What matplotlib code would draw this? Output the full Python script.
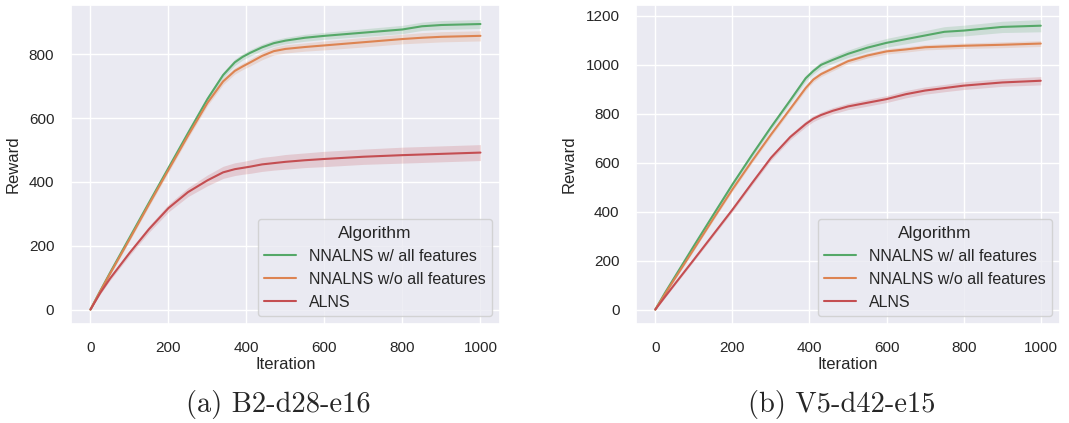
import numpy as np
import matplotlib
matplotlib.use('Agg')
import matplotlib.pyplot as plt
import seaborn as sns

# Mean reward curves (sampled every few iterations) and half-width of the confidence band
iters_b2 = [0, 25, 50, 100, 150, 200, 250, 300, 340, 370, 390, 410, 440, 470, 500, 550, 600, 700, 800, 850, 900, 1000]
b2_full = [0, 58, 115, 225, 335, 444, 553, 660, 735, 775, 792, 805, 822, 835, 843, 852, 858, 868, 878, 888, 892, 895]
b2_nofeat = [0, 57, 112, 220, 330, 438, 545, 648, 715, 748, 762, 775, 795, 810, 817, 823, 828, 838, 848, 852, 855, 858]
b2_alns = [0, 52, 97, 177, 252, 318, 368, 405, 430, 440, 444, 448, 455, 459, 463, 468, 472, 479, 484, 486, 488, 492]
b2_full_ci = [0, 4, 5, 6, 7, 8, 8, 9, 9, 10, 10, 10, 10, 10, 10, 11, 11, 12, 13, 13, 14, 14]
b2_nofeat_ci = [0, 4, 5, 6, 7, 8, 8, 9, 10, 10, 10, 11, 12, 12, 13, 13, 14, 15, 15, 16, 16, 16]
b2_alns_ci = [0, 4, 6, 8, 10, 12, 14, 17, 19, 20, 20, 21, 22, 22, 23, 23, 24, 24, 25, 25, 25, 25]

iters_v5 = [0, 25, 50, 100, 150, 200, 250, 300, 350, 390, 410, 430, 460, 500, 550, 600, 650, 700, 750, 800, 900, 1000]
v5_full = [0, 68, 132, 260, 386, 511, 630, 745, 855, 945, 975, 1000, 1020, 1045, 1070, 1090, 1105, 1120, 1135, 1140, 1155, 1160]
v5_nofeat = [0, 63, 125, 247, 370, 491, 605, 715, 820, 905, 940, 962, 985, 1015, 1038, 1055, 1063, 1072, 1075, 1078, 1082, 1087]
v5_alns = [0, 52, 103, 204, 306, 408, 515, 620, 705, 758, 780, 795, 812, 830, 845, 860, 880, 895, 905, 915, 928, 935]
v5_full_ci = [0, 4, 6, 7, 8, 9, 10, 10, 11, 12, 12, 13, 14, 15, 17, 18, 19, 20, 21, 22, 23, 25]
v5_nofeat_ci = [0, 4, 5, 6, 7, 8, 8, 9, 9, 10, 10, 10, 10, 10, 10, 11, 11, 11, 11, 11, 12, 12]
v5_alns_ci = [0, 4, 5, 6, 7, 8, 9, 10, 11, 12, 12, 12, 13, 13, 14, 14, 15, 15, 15, 16, 16, 17]

algorithms = ['NNALNS w/ all features', 'NNALNS w/o all features', 'ALNS']
captions = ['(a) B2-d28-e16', '(b) V5-d42-e15']

sns.set_theme(style='darkgrid')
plt.rcParams['font.family'] = ['Liberation Sans', 'DejaVu Sans']
palette = sns.color_palette('deep')
colors = [palette[2], palette[1], palette[3]]

fig = plt.figure(figsize=(10.69, 4.23), dpi=100)
ax1 = fig.add_axes([0.0664, 0.234, 0.4013, 0.754])
ax2 = fig.add_axes([0.595, 0.234, 0.3966, 0.754])

panels = [
    (ax1, iters_b2, [b2_full, b2_nofeat, b2_alns], [b2_full_ci, b2_nofeat_ci, b2_alns_ci]),
    (ax2, iters_v5, [v5_full, v5_nofeat, v5_alns], [v5_full_ci, v5_nofeat_ci, v5_alns_ci]),
]

for ax, x, means, cis in panels:
    x = np.array(x)
    for name, mean, ci, c in zip(algorithms, means, cis, colors):
        mean = np.array(mean)
        ci = np.array(ci)
        ax.fill_between(x, mean - ci, mean + ci, color=c, alpha=0.2, linewidth=0)
        ax.plot(x, mean, color=c, linewidth=1.5, label=name)
    ax.set_xlabel('Iteration', fontsize=12, labelpad=2)
    ax.set_ylabel('Reward', fontsize=12, labelpad=6)
    ax.tick_params(labelsize=11, pad=6)
    ax.set_xticks([0, 200, 400, 600, 800, 1000])
    ax.legend(title='Algorithm', loc='lower right', fontsize=11.5, title_fontsize=12.5)

fig.text(0.260, 0.025, captions[0], fontsize=20.5, family='cmr10', ha='center')
fig.text(0.787, 0.025, captions[1], fontsize=20.5, family='cmr10', ha='center')

fig.savefig('out.png', dpi=100)
